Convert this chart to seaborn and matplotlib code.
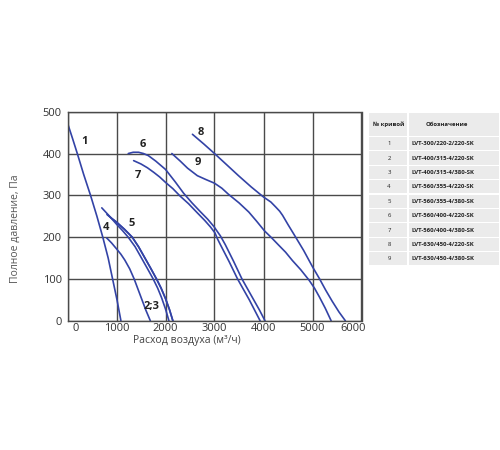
import pandas as pd
import matplotlib
matplotlib.use("Agg")
import matplotlib.pyplot as plt
import matplotlib.transforms as mtransforms
from matplotlib.patches import Rectangle
import seaborn as sns

# fan curves: flow (m3/h) -> total pressure (Pa)
curve1_x = [0, 100, 200, 330, 470, 600, 720, 830, 920, 1010, 1090]
curve1_y = [473, 437, 400, 350, 300, 250, 200, 150, 100, 50, 0]
curve23_x = [810, 900, 1000, 1160, 1320, 1450, 1580, 1700, 1816, 1910, 2000, 2080, 2150]
curve23_y = [254, 245, 236, 219, 200, 177, 150, 125, 100, 78, 53, 27, 0]
curve4_x = [800, 900, 1000, 1090, 1170, 1270, 1360, 1440, 1520, 1600, 1690]
curve4_y = [198, 186, 172, 159, 145, 124, 100, 75, 50, 25, 0]
curve5_x = [700, 850, 1000, 1120, 1238, 1380, 1510, 1630, 1748, 1840, 1920, 2000, 2070]
curve5_y = [270, 251, 231, 216, 200, 177, 150, 125, 100, 78, 55, 28, 0]
curve6_x = [1240, 1340, 1450, 1550, 1650, 1800, 2000, 2200, 2370, 2540, 2710, 2860, 2990,
            3060, 3120, 3220, 3390, 3560, 3680, 3800, 3920, 4030]
curve6_y = [400, 403, 403, 400, 395, 382, 362, 332, 305, 282, 261, 243, 225,
            213, 203, 182, 142, 100, 75, 50, 25, 0]
curve7_x = [1350, 1500, 1630, 1760, 1880, 2000, 2150, 2300, 2470, 2650, 2800, 2920, 3010,
            3060, 3120, 3300, 3470, 3590, 3710, 3820, 3930]
curve7_y = [383, 375, 366, 355, 344, 331, 316, 298, 280, 258, 240, 224, 210,
            196, 182, 141, 100, 75, 50, 25, 0]
curve8_x = [2550, 2780, 3000, 3250, 3490, 3750, 4000, 4150, 4250, 4330, 4390, 4500, 4630,
            4820, 5000, 5140, 5270, 5400, 5540, 5670]
curve8_y = [446, 423, 400, 373, 347, 320, 296, 284, 272, 262, 252, 230, 205,
            168, 129, 101, 73, 47, 21, 0]
curve9_x = [2130, 2300, 2450, 2650, 2820, 3000, 3150, 3280, 3500, 3700, 3860, 4020, 4160,
            4300, 4450, 4590, 4760, 4930, 5040, 5140, 5260, 5380]
curve9_y = [400, 382, 365, 347, 338, 329, 317, 303, 282, 260, 238, 215, 199,
            182, 164, 144, 122, 97, 78, 57, 30, 0]

curve_labels = ["1", "2;3", "4", "5", "6", "7", "8", "9"]
label_x = [350, 1715, 790, 1320, 1540, 1445, 2720, 2650]
label_y = [429, 35, 222, 233, 421, 348, 451, 378]

x_ticks = [0, 1000, 2000, 3000, 4000, 5000, 6000]
y_ticks = [0, 100, 200, 300, 400, 500]

table_nums = ["1", "2", "3", "4", "5", "6", "7", "8", "9"]
table_names = ["LVT-300/220-2/220-SK", "LVT-400/315-4/220-SK", "LVT-400/315-4/380-SK",
               "LVT-560/355-4/220-SK", "LVT-560/355-4/380-SK", "LVT-560/400-4/220-SK",
               "LVT-560/400-4/380-SK", "LVT-630/450-4/220-SK", "LVT-630/450-4/380-SK"]

curves = {
    "1": (curve1_x, curve1_y), "2": (curve23_x, curve23_y), "3": (curve23_x, curve23_y),
    "4": (curve4_x, curve4_y), "5": (curve5_x, curve5_y), "6": (curve6_x, curve6_y),
    "7": (curve7_x, curve7_y), "8": (curve8_x, curve8_y), "9": (curve9_x, curve9_y),
}
rows = []
for name, (xs, ys) in curves.items():
    for i, (xv, yv) in enumerate(zip(xs, ys)):
        rows.append({"curve": name, "order": i, "flow": xv, "pressure": yv})
df = pd.DataFrame(rows)

sns.set_style("white")
plt.rcParams["font.family"] = ["Open Sans", "DejaVu Sans"]

line_color = "#3343a6"
grid_color = "#4a4a4a"

fig = plt.figure(figsize=(5, 4.5), dpi=100)
ax = fig.add_axes([0.135, 0.2873, 0.588, 0.4644])

sns.lineplot(data=df, x="flow", y="pressure", units="curve", estimator=None,
             sort=False, color=line_color, linewidth=1.2, ax=ax)

for lab, lx, ly in zip(curve_labels, label_x, label_y):
    ax.text(lx, ly, lab, fontsize=8, fontweight="bold", color="#222222",
            ha="center", va="center")

ax.set_xlim(0, 6000)
ax.set_ylim(0, 498)
ax.set_xticks(x_ticks)
ax.set_yticks(y_ticks)
ax.set_xticklabels([str(t) for t in x_ticks])
ax.set_yticklabels([str(t) for t in y_ticks])
ax.tick_params(axis="both", length=0, labelsize=8, labelcolor="#333333")
ax.tick_params(axis="x", pad=1.5)
ax.tick_params(axis="y", pad=4)
xl = ax.get_xticklabels()
xl[0].set_transform(xl[0].get_transform() + mtransforms.ScaledTranslation(8 / 100, 0, fig.dpi_scale_trans))
xl[-1].set_transform(xl[-1].get_transform() + mtransforms.ScaledTranslation(-8 / 100, 0, fig.dpi_scale_trans))

ax.grid(True, color=grid_color, linewidth=1.0)
ax.set_axisbelow(True)
for sp in ax.spines.values():
    sp.set_color(grid_color)
    sp.set_linewidth(1.0)

ax.set_xlabel("")
ax.set_ylabel("")
fig.text(187 / 500, 1 - 340 / 450, "Расход воздуха (м³/ч)", fontsize=7.5,
         color="#444444", ha="center", va="center")
fig.text(15 / 500, 1 - 229 / 450, "Полное давление, Па", fontsize=7.5,
         color="#555555", ha="center", va="center", rotation=90)

# legend table on the right, laid out in pixel units
tab = fig.add_axes([0, 0, 1, 1], zorder=-1)
tab.set_xlim(0, 500)
tab.set_ylim(450, 0)
tab.axis("off")
cell_color = "#ebebeb"
col_left, col_mid, col_right = 369, 408, 498
head_top, head_bot = 113, 136
row_h = 14.4
tab.add_patch(Rectangle((col_left, head_top), col_mid - col_left - 1, head_bot - head_top,
                        color=cell_color, lw=0))
tab.add_patch(Rectangle((col_mid + 0.5, head_top), col_right - col_mid, head_bot - head_top,
                        color=cell_color, lw=0))
tab.text(389, (head_top + head_bot) / 2, "№ кривой", fontsize=4.3, fontweight="bold",
         color="#222222", ha="center", va="center")
tab.text(447, (head_top + head_bot) / 2, "Обозначение", fontsize=4.3, fontweight="bold",
         color="#222222", ha="center", va="center")
for i, (num, name) in enumerate(zip(table_nums, table_names)):
    top = head_bot + 1 + i * row_h
    tab.add_patch(Rectangle((col_left, top), col_mid - col_left - 1, row_h - 1.2,
                            color=cell_color, lw=0))
    tab.add_patch(Rectangle((col_mid + 0.5, top), col_right - col_mid, row_h - 1.2,
                            color=cell_color, lw=0))
    cy = top + (row_h - 1.2) / 2
    tab.text(389, cy, num, fontsize=4.3, color="#222222", ha="center", va="center")
    tab.text(412, cy, name, fontsize=4.3, fontweight="bold", color="#222222",
             ha="left", va="center")

fig.savefig("out.png", dpi=100)
